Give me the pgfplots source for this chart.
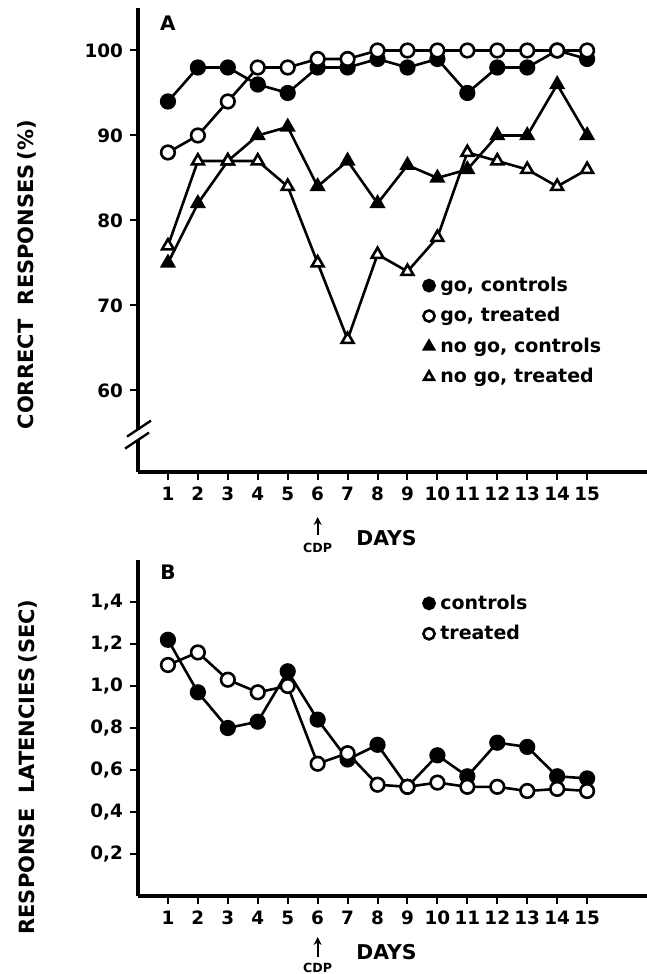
\documentclass[border=0pt]{standalone}
\usepackage{fontspec}
\setmainfont{DejaVu Sans}
\usepackage{pgfplots}
\pgfplotsset{compat=1.18}
\usepackage{pgfplotstable}
\usetikzlibrary{arrows.meta}

% panel A: correct responses (%)
\pgfplotstableread{
day gc  gt  nc   nt
1   94  88  75   77
2   98  90  82   87
3   98  94  87   87
4   96  98  90   87
5   95  98  91   84
6   98  99  84   75
7   98  99  87   66
8   99  100 82   76
9   98  100 86.5 74
10  99  100 85   78
11  95  100 86   88
12  98  100 90   87
13  98  100 90   86
14  100 100 96   84
15  99  100 90   86
}\dataA

% panel B: response latencies (sec)
\pgfplotstableread{
day c    t
1   1.22 1.10
2   0.97 1.16
3   0.80 1.03
4   0.83 0.97
5   1.07 1.00
6   0.84 0.63
7   0.65 0.68
8   0.72 0.53
9   0.52 0.52
10  0.67 0.54
11  0.57 0.52
12  0.73 0.52
13  0.71 0.50
14  0.57 0.51
15  0.56 0.50
}\dataB

\pgfplotsset{
  panel/.style={
    scale only axis, width=254.5pt,
    xmin=0, xmax=17,
    axis lines*=left,
    axis line style={line width=2.2pt},
    xtick={1,...,15},
    tick align=outside,
    major tick length=4pt,
    tick style={line width=1pt, black},
    tick label style={font=\bfseries\fontsize{9.2}{11}\selectfont},
    /pgf/number format/assume math mode=true,
    clip=false,
    legend cell align=left,
    legend style={draw=none, fill=none, anchor=north west, inner sep=0pt,
      font=\bfseries\fontsize{9.5}{11}\selectfont, row sep=2.5pt},
    legend image code/.code={%
      \draw[##1, only marks, mark size=2.8pt] plot coordinates {(0.1cm,0cm)};
      \path (0.1cm,0cm) ++(3pt,0pt);},
  },
  ser/.style={line width=1.3pt, black, mark size=3.4pt},
}

\begin{document}
\begin{tikzpicture}
\path[use as bounding box] (-69pt,4pt) rectangle (254.5pt,-483pt);

\begin{axis}[panel, name=A, at={(0,0)}, anchor=north west,
  height=232pt, ymin=50.4, ymax=105, ytick={60,70,80,90,100},
  legend style={at={(0.56,0.43)}}]
  \addplot[ser, mark=*, mark options={fill=black}] table[x=day,y=gc]{\dataA};
  \addlegendentry{go, controls}
  \addplot[ser, mark=*, mark options={fill=white}] table[x=day,y=gt]{\dataA};
  \addlegendentry{go, treated}
  \addplot[ser, mark=triangle*, mark options={fill=black}] table[x=day,y=nc]{\dataA};
  \addlegendentry{no go, controls}
  \addplot[ser, mark=triangle*, mark options={fill=white}] table[x=day,y=nt]{\dataA};
  \addlegendentry{no go, treated}

  \node[font=\bfseries\fontsize{10}{12}\selectfont] at (axis cs:1,103.2) {A};
  \node[rotate=90, font=\bfseries\fontsize{10.5}{12}\selectfont]
    at ([xshift=-55.5pt]rel axis cs:0,0.425) {CORRECT\ \ RESPONSES\,(\%)};
  % axis break
  \fill[white] ([shift={(-3pt,-2.5pt)}]axis cs:0,54.8) rectangle ([shift={(3pt,2.5pt)}]axis cs:0,54.8);
  \draw[line width=1.2pt] ([shift={(-6.5pt,-7pt)}]axis cs:0,54.8) -- ([shift={(5.5pt,1pt)}]axis cs:0,54.8);
  \draw[line width=1.2pt] ([shift={(-5.5pt,-1pt)}]axis cs:0,54.8) -- ([shift={(6.5pt,7pt)}]axis cs:0,54.8);
  % treatment day and x label
  \draw[-{Stealth[length=4pt,width=4pt]}, line width=1.1pt]
    ([yshift=-31.5pt]axis cs:6,50.4) -- ([yshift=-22.5pt]axis cs:6,50.4);
  \node[font=\bfseries\fontsize{6.3}{7}\selectfont] at ([yshift=-38pt]axis cs:6,50.4) {CDP};
  \node[font=\bfseries\fontsize{10.2}{12}\selectfont] at ([yshift=-33pt]axis cs:8.3,50.4) {DAYS};
\end{axis}

\begin{axis}[panel, name=B, at={(0,-276pt)}, anchor=north west,
  height=168pt, ymin=0, ymax=1.6, ytick={0.2,0.4,0.6,0.8,1.0,1.2,1.4},
  yticklabel style={/pgf/number format/.cd, fixed, fixed zerofill, precision=1, use comma},
  legend style={at={(0.56,0.91)}}]
  \addplot[ser, mark=*, mark options={fill=black}] table[x=day,y=c]{\dataB};
  \addlegendentry{controls}
  \addplot[ser, mark=*, mark options={fill=white}] table[x=day,y=t]{\dataB};
  \addlegendentry{treated}

  \node[font=\bfseries\fontsize{10}{12}\selectfont] at (axis cs:1,1.54) {B};
  \node[rotate=90, font=\bfseries\fontsize{10.5}{12}\selectfont]
    at ([xshift=-55pt]rel axis cs:0,0.384) {RESPONSE\ \ LATENCIES\,(SEC)};
  \draw[-{Stealth[length=4pt,width=4pt]}, line width=1.1pt]
    ([yshift=-30.5pt]axis cs:6,0) -- ([yshift=-20.5pt]axis cs:6,0);
  \node[font=\bfseries\fontsize{6.3}{7}\selectfont] at ([yshift=-36pt]axis cs:6,0) {CDP};
  \node[font=\bfseries\fontsize{10.2}{12}\selectfont] at ([yshift=-28pt]axis cs:8.3,0) {DAYS};
\end{axis}
\end{tikzpicture}
\end{document}
